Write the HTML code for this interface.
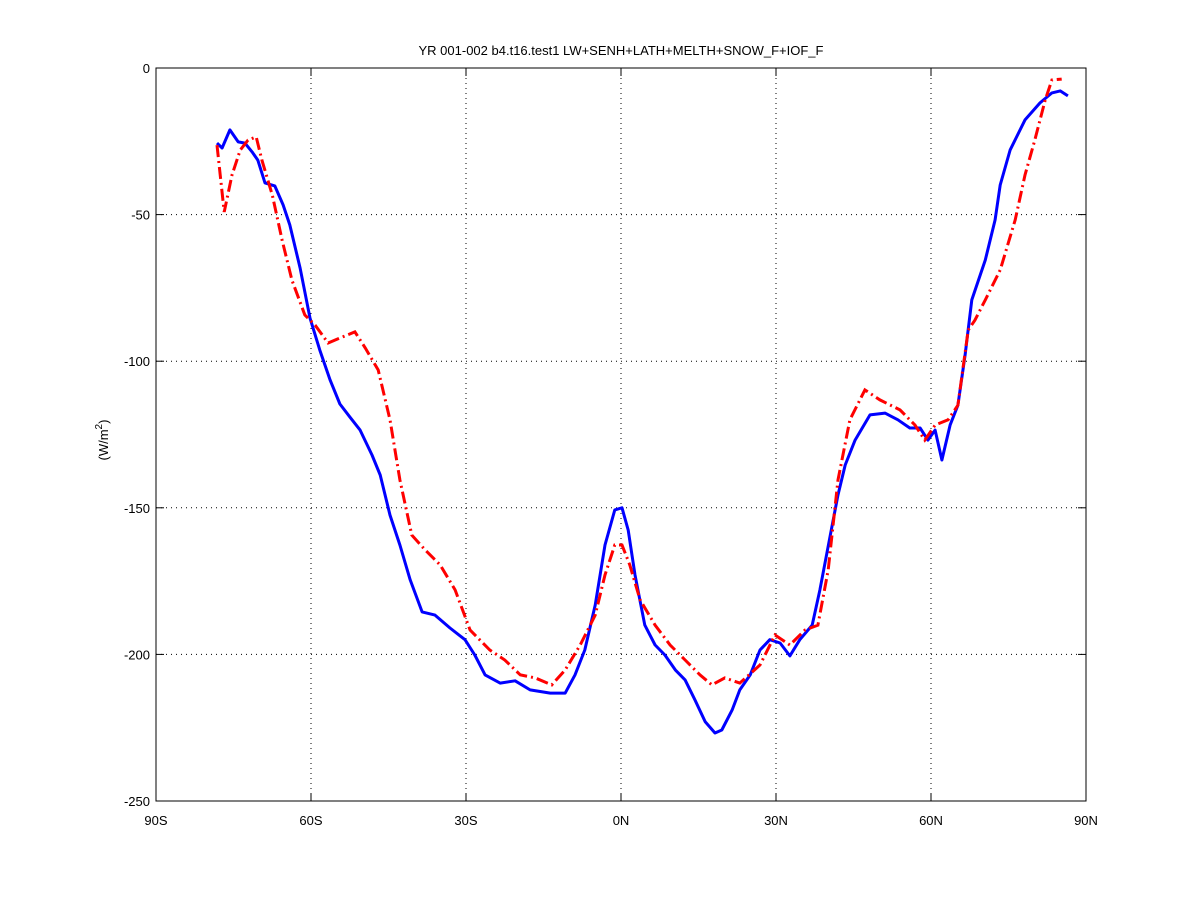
<!DOCTYPE html>
<html><head><meta charset="utf-8"><style>
body{margin:0;background:#fff;}
svg{display:block;font-family:"Liberation Sans",sans-serif;}
</style></head><body>
<svg id="chart" width="1200" height="900">
<text x="621" y="55" text-anchor="middle" font-size="13">YR 001-002 b4.t16.test1 LW+SENH+LATH+MELTH+SNOW_F+IOF_F</text>
<text transform="translate(108,440) rotate(-90)" text-anchor="middle" font-size="13">(W/m<tspan dy="-6" font-size="10">2</tspan><tspan dy="6">)</tspan></text>
<g id="grid"></g><g id="series"></g><g id="axes"></g>
</svg>
<script>
const xTicks=[-90,-60,-30,0,30,60,90];
const xTickLabels=["90S","60S","30S","0N","30N","60N","90N"];
const yTicks=[0,-50,-100,-150,-200,-250];
const yTickLabels=["0","-50","-100","-150","-200","-250"];
const blueLat=[-78.2,-77.2,-75.7,-74.1,-72.8,-71.4,-70.3,-68.9,-67,-65.4,-64.1,-62.1,-60.2,-58.3,-56.3,-54.4,-52.5,-50.5,-48.2,-46.6,-44.7,-42.8,-40.8,-38.5,-36,-33.1,-30.2,-28.3,-26.3,-23.4,-20.5,-17.6,-13.7,-10.8,-8.9,-7,-5,-3.1,-1.2,0.2,1.4,2.7,4.6,6.6,8.5,10.5,12.4,14.3,16.3,18.2,19.5,21.5,23,25,26.9,28.8,30.8,32.7,34.6,37,38.5,40.5,42,43.4,45.3,48.2,51.1,53.6,55.9,57.9,59.4,60.8,62.1,63.7,65.2,66.6,67.9,70.5,72.4,73.4,75.3,78.2,81.1,83.4,85,86.5];
const blueVal=[-25.6,-27.3,-21.1,-25.2,-25.6,-28.6,-31.4,-39.2,-40.2,-46.7,-53.5,-68.2,-85.3,-96.2,-106.4,-114.6,-119,-123.5,-132,-138.8,-152.5,-162.7,-174.6,-185.5,-186.6,-191,-195,-200.2,-207,-209.8,-209,-212.1,-213.2,-213.2,-207,-198.5,-183.2,-162.7,-150.7,-150,-157.6,-172.9,-190,-196.8,-200.2,-205.3,-208.7,-215.5,-223,-226.8,-225.8,-219,-212.1,-207,-198.5,-195,-196.1,-200.5,-195,-190,-178,-159.3,-145.6,-135.4,-126.9,-118.3,-117.7,-120,-122.8,-122.8,-126.9,-123.5,-133.7,-121.8,-115,-97.9,-79.1,-65.5,-51.8,-39.9,-28,-17.7,-11.9,-8.5,-7.8,-9.5];
const redLat=[-78.2,-76.8,-75.3,-73.7,-72.2,-70.6,-69.5,-67.5,-65.6,-63.7,-61.2,-59.2,-56.7,-54.4,-51.5,-49.5,-47,-44.7,-42.8,-40.5,-37.9,-35,-32.1,-29.2,-25.4,-22.5,-19.5,-16.6,-13.4,-10.8,-7.9,-5,-3.1,-1.2,0.2,1.7,3.7,6.6,9.5,12.4,15.3,17.6,20.1,23,26.9,29.8,32.7,35.6,38.1,40.1,42,44.3,47.2,50.1,54,56.9,58.8,60.8,63.3,65.2,67.2,68.5,70.5,73.4,76.3,78.2,80.1,82.1,83.4,85.3];
const redVal=[-26.3,-49.1,-36.5,-28,-24.6,-23.5,-31.4,-43.3,-58.7,-72.3,-84.2,-87.7,-93.8,-92.1,-90,-95.5,-103,-120,-140.5,-159.3,-164.4,-169.5,-178,-191.7,-198.5,-201.9,-207,-208,-210.4,-205.3,-196.8,-186.6,-172.9,-162.7,-162.7,-169.5,-181.4,-190,-196.8,-201.9,-207,-210.4,-208,-209.8,-203.6,-193.4,-196.8,-191.7,-190,-171.2,-140.5,-120,-109.8,-113.2,-116.6,-121.8,-126.9,-121.8,-120,-115,-89.4,-86,-79.1,-68.9,-51.8,-36.5,-24.6,-10.9,-4.1,-3.8];
const L=156,R=1086,T=68,B=801;
const xs=v=>L+(v+90)/180*(R-L);
const ys=v=>T+(-v)/250*(B-T);
const NS="http://www.w3.org/2000/svg";
function mk(tag,attrs,parent){const e=document.createElementNS(NS,tag);for(const k in attrs)e.setAttribute(k,attrs[k]);parent.appendChild(e);return e;}
const grid=document.getElementById('grid'),axes=document.getElementById('axes'),ser=document.getElementById('series');
xTicks.forEach((t,i)=>{const x=xs(t);
 if(i>0&&i<xTicks.length-1){const g=mk('line',{x1:x,x2:x,y1:T,y2:B,stroke:'#000','stroke-dasharray':'1,4'},grid);
 
 }
 mk('line',{x1:x,x2:x,y1:B,y2:B-8,stroke:'#000'},axes);mk('line',{x1:x,x2:x,y1:T,y2:T+8,stroke:'#000'},axes);
 const tx=mk('text',{x:x,y:B+24,'text-anchor':'middle','font-size':'13'},axes);tx.textContent=xTickLabels[i];
 
 });
yTicks.forEach((t,i)=>{const y=ys(t);
 if(i>0&&i<yTicks.length-1){const g=mk('line',{x1:L,x2:R,y1:y,y2:y,stroke:'#000','stroke-dasharray':'1,4'},grid);
 
 }
 mk('line',{x1:L,x2:L+8,y1:y,y2:y,stroke:'#000'},axes);mk('line',{x1:R,x2:R-8,y1:y,y2:y,stroke:'#000'},axes);
 const tx=mk('text',{x:L-6,y:y+5,'text-anchor':'end','font-size':'13'},axes);tx.textContent=yTickLabels[i];
 
 });
const frame=mk('rect',{x:L,y:T,width:R-L,height:B-T,fill:'none',stroke:'#000'},axes);


const bp=mk('path',{d:blueLat.map((v,i)=>(i?'L':'M')+xs(v).toFixed(1)+','+ys(blueVal[i]).toFixed(1)).join(''),fill:'none',stroke:'#0000ff','stroke-width':'3','stroke-linejoin':'round'},ser);


const rp=mk('path',{d:redLat.map((v,i)=>(i?'L':'M')+xs(v).toFixed(1)+','+ys(redVal[i]).toFixed(1)).join(''),fill:'none',stroke:'#ff0000','stroke-width':'3','stroke-dasharray':'12,4,2,4'},ser);


</script>
</body></html>
